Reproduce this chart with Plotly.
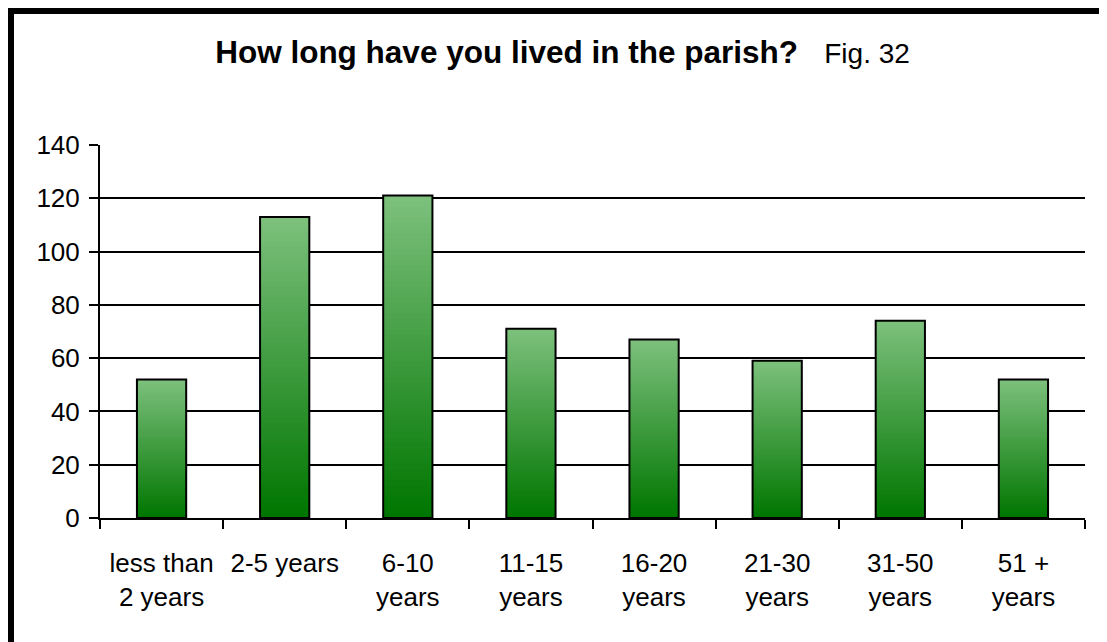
import plotly.graph_objects as go

categories = ["less than<br>2 years", "2-5 years", "6-10<br>years", "11-15<br>years",
              "16-20<br>years", "21-30<br>years", "31-50<br>years", "51 +<br>years"]
values = [52, 113, 121, 71, 67, 59, 74, 52]
y_ticks = [0, 20, 40, 60, 80, 100, 120, 140]

TOP = (124, 192, 124)
BOTTOM = (0, 118, 0)
N = 60
BAR_W = 0.4
FONT = "Liberation Sans, Arial, sans-serif"

# figure is placed by the page with an 8px body margin
W, H = 1099, 634
ML, MR, MT, MB = 92, 22, 137, 124
PW, PH = W - ML - MR, H - MT - MB

fig = go.Figure()
# gradient fill: overlapping slices per bar, each from its base to the bar top
for i in range(N):
    t = i / (N - 1)
    col = "rgb(%d,%d,%d)" % tuple(round(BOTTOM[k] + (TOP[k] - BOTTOM[k]) * t) for k in range(3))
    fig.add_trace(go.Bar(
        x=categories,
        y=[v * (N - i) / N for v in values],
        base=[v * i / N for v in values],
        width=BAR_W,
        marker=dict(color=col, line=dict(width=0)),
        hoverinfo="skip",
    ))
# outline
fig.add_trace(go.Bar(
    x=categories, y=values, width=BAR_W,
    marker=dict(color="rgba(0,0,0,0)", line=dict(color="black", width=2)),
))

fig.update_layout(
    barmode="overlay",
    showlegend=False,
    hovermode=False,
    width=W, height=H,
    paper_bgcolor="white", plot_bgcolor="white",
    margin=dict(l=ML, r=MR, t=MT, b=MB),
    font=dict(family=FONT, color="black", size=26),
    title=dict(
        text="<b>How long have you lived in the parish?</b>&nbsp;&nbsp;&nbsp;<span style='font-size:28px'>Fig. 32</span>",
        x=554.5 / W, xanchor="center", y=1 - 44 / H, yanchor="middle",
        font=dict(family=FONT, size=31.5, color="black"),
    ),
    xaxis=dict(
        type="category",
        tickson="boundaries",
        ticks="outside", ticklen=9, tickwidth=2, tickcolor="black",
        showline=True, linecolor="black", linewidth=2,
        showgrid=False, zeroline=False,
        ticklabelstandoff=21,
        tickfont=dict(size=26, family=FONT),
    ),
    yaxis=dict(
        range=[0, 140], tickvals=y_ticks,
        ticks="outside", ticklen=9, tickwidth=2, tickcolor="black",
        showline=True, linecolor="black", linewidth=2,
        showgrid=True, gridcolor="black", gridwidth=1.5,
        zeroline=False,
        ticklabelstandoff=4,
        tickfont=dict(size=26, family=FONT),
    ),
    shapes=[dict(
        type="rect", xref="paper", yref="paper",
        x0=(3 - ML) / PW, x1=(W + 20 - ML) / PW,
        y0=(MT + PH - (H + 20)) / PH, y1=1 + (MT - 3) / PH,
        line=dict(color="black", width=6), fillcolor="rgba(0,0,0,0)",
        layer="above",
    )],
)

fig.write_html("out.html")
